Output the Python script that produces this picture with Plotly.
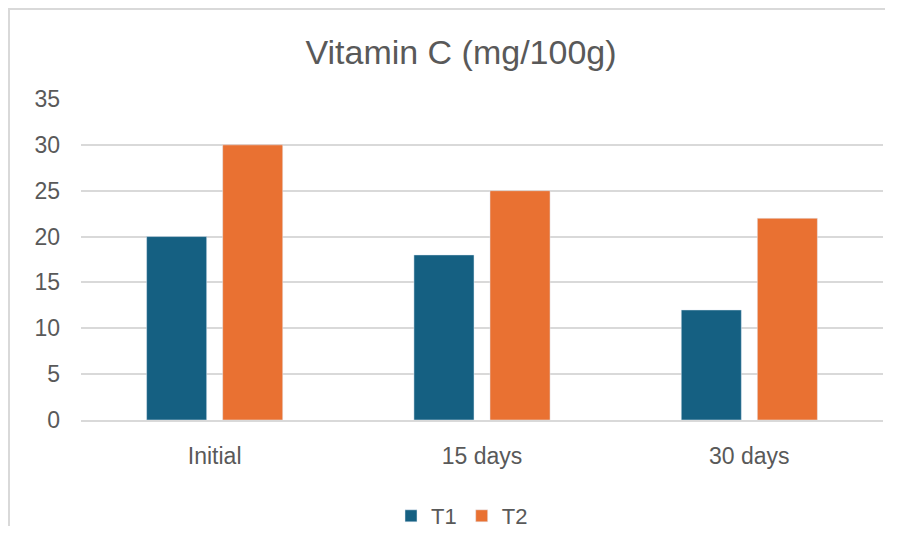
import plotly.graph_objects as go

categories = ["Initial", "15 days", "30 days"]
t1_values = [20, 18, 12]
t2_values = [30, 25, 22]
series_names = ["T1", "T2"]
y_ticks = [0, 5, 10, 15, 20, 25, 30, 35]

# page body has an 8px margin; figure is placed at (8, 8)
OFF = 8
W, H = 879, 546 - 2 * OFF - 10
L, R, T, B = 81 - OFF, W - (883 - OFF), 99 - OFF, H - (420 - OFF)
pw, ph = W - L - R, H - T - B

fig = go.Figure()
fig.add_trace(go.Bar(x=categories, y=t1_values, name=series_names[0], marker_color="#156082"))
fig.add_trace(go.Bar(x=categories, y=t2_values, name=series_names[1], marker_color="#E97132"))

def px(x):
    return (x - OFF - L) / pw

def py(y):
    return (H - B - (y - OFF)) / ph

border_path = "M {:.5f},{:.5f} L {:.5f},{:.5f} L {:.5f},{:.5f}".format(
    px(8 + W - 2), py(9), px(9), py(9), px(9), py(8 + H - 2))

fig.update_layout(
    width=W, height=H,
    margin=dict(l=L, r=R, t=T, b=B, autoexpand=False),
    paper_bgcolor="white", plot_bgcolor="white",
    font=dict(family="Liberation Sans, Arial", color="#595959", size=22),
    title=dict(text="Vitamin C (mg/100g)", xref="container", x=(461 - OFF) / W, xanchor="center",
               y=1 - (52 - OFF) / H, yanchor="middle",
               font=dict(size=34, color="#595959")),
    barmode="group", bargap=0.431, bargroupgap=0.21,
    xaxis=dict(showgrid=False, showline=True, linecolor="#D9D9D9", linewidth=2,
               ticks="", tickfont=dict(size=23, color="#595959"), ticklabelstandoff=14,
               automargin=False),
    yaxis=dict(range=[0, 35], tickvals=y_ticks, showgrid=True, gridcolor="#D9D9D9",
               gridwidth=2, zeroline=False, showline=False, ticks="",
               tickfont=dict(size=23, color="#595959"), ticklabelstandoff=20,
               automargin=False),
    legend=dict(orientation="h", x=px(462), xanchor="center", y=py(516), yanchor="middle",
                font=dict(size=22, color="#595959"), itemwidth=30,
                traceorder="normal"),
    shapes=[
        dict(type="path", xref="paper", yref="paper", path=border_path,
             fillcolor="rgba(0,0,0,0)", line=dict(color="#D9D9D9", width=2)),
    ],
)

fig.write_html("out.html")
